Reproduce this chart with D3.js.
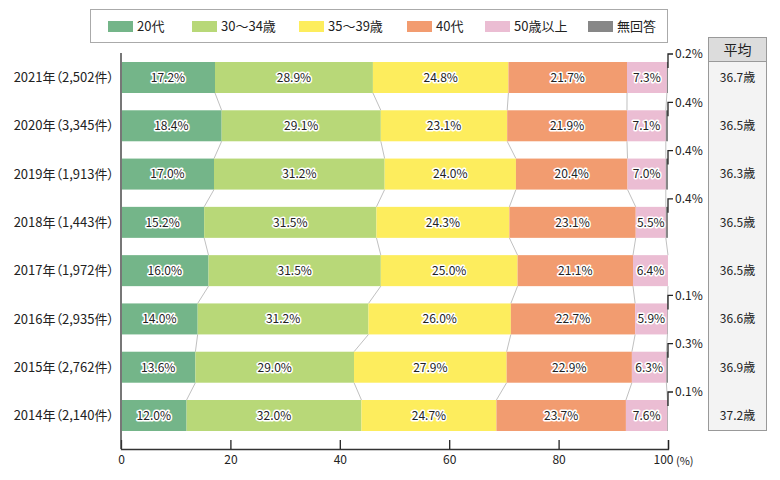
<!DOCTYPE html>
<meta charset="utf-8">
<style>
body { margin: 0; background: #fff; }
svg { font-family: "Noto Sans CJK JP", "Noto Sans", sans-serif; }
.seg-label {
  font-size: 12px;
  fill: #222;
  stroke: #fff;
  stroke-width: 3px;
  stroke-linejoin: round;
  paint-order: stroke;
}
.cat-label { font-feature-settings: "palt"; }
</style>
<svg width="780" height="480"></svg>
<script src="https://d3js.org/d3.v7.min.js"></script>
<script>
var years = ["2021年（2,502件）", "2020年（3,345件）", "2019年（1,913件）", "2018年（1,443件）",
             "2017年（1,972件）", "2016年（2,935件）", "2015年（2,762件）", "2014年（2,140件）"]
var groups = ["20代", "30～34歳", "35～39歳", "40代", "50歳以上", "無回答"]
var colors = ["#74b589", "#b8d878", "#fded5d", "#f29c70", "#ebbdd3", "#878787"]
var age20 = [17.2, 18.4, 17.0, 15.2, 16.0, 14.0, 13.6, 12.0]
var age30 = [28.9, 29.1, 31.2, 31.5, 31.5, 31.2, 29.0, 32.0]
var age35 = [24.8, 23.1, 24.0, 24.3, 25.0, 26.0, 27.9, 24.7]
var age40 = [21.7, 21.9, 20.4, 23.1, 21.1, 22.7, 22.9, 23.7]
var age50 = [7.3, 7.1, 7.0, 5.5, 6.4, 5.9, 6.3, 7.6]
var noAnswer = [0.2, 0.4, 0.4, 0.4, 0, 0.1, 0.3, 0.1]
var averages = ["36.7歳", "36.5歳", "36.3歳", "36.5歳", "36.5歳", "36.6歳", "36.9歳", "37.2歳"]
var xTicks = [0, 20, 40, 60, 80, 100]

var series = [age20, age30, age35, age40, age50, noAnswer]

var svg = d3.select("svg")

var x = d3.scaleLinear().domain([0, 100]).range([121, 668])
var y = d3.scaleBand().domain(years).range([62, 431]).paddingInner(0.358).paddingOuter(0)
var bh = y.bandwidth()

// build stacked rows (normalised so every row fills to 100)
var rows = years.map(function(yr, i) {
  var vals = series.map(function(s) { return s[i] })
  var total = d3.sum(vals)
  var cum = 0
  var segs = vals.map(function(v, k) {
    var s = {row: i, k: k, v: v, x0: cum / total * 100}
    cum += v
    s.x1 = cum / total * 100
    return s
  })
  return {year: yr, segs: segs}
})

// connector lines between bars
var conn = svg.append("g").attr("stroke", "#c0c0c0").attr("stroke-width", 1)
for (var i = 0; i < rows.length - 1; i++) {
  for (var k = 0; k < 5; k++) {
    conn.append("line")
      .attr("x1", x(rows[i].segs[k].x1)).attr("y1", y(years[i]) + bh)
      .attr("x2", x(rows[i + 1].segs[k].x1)).attr("y2", y(years[i + 1]))
  }
}

// bars
var rowG = svg.selectAll("g.row").data(rows).enter().append("g").attr("class", "row")
  .attr("transform", function(d) { return "translate(0," + y(d.year) + ")" })
rowG.selectAll("rect").data(function(d) { return d.segs }).enter().append("rect")
  .attr("x", function(d) { return x(d.x0) })
  .attr("width", function(d) { return x(d.x1) - x(d.x0) })
  .attr("height", bh)
  .attr("fill", function(d) { return colors[d.k] })
rowG.selectAll("text").data(function(d) { return d.segs.filter(function(s) { return s.k < 5 }) })
  .enter().append("text")
  .attr("class", "seg-label")
  .attr("x", function(d) { return (x(d.x0) + x(d.x1)) / 2 })
  .attr("y", bh / 2)
  .attr("dy", "0.36em")
  .attr("text-anchor", "middle")
  .text(function(d) { return d.v.toFixed(1) + "%" })

// 無回答 leader labels
rows.forEach(function(r, i) {
  var v = noAnswer[i]
  if (!v) return
  var top = y(r.year)
  var xr = x(100)
  svg.append("path")
    .attr("d", "M" + (xr + 5) + "," + (top - 8) + "H" + xr + "V" + (top + 6))
    .attr("fill", "none").attr("stroke", "#222").attr("stroke-width", 1.3)
  svg.append("text")
    .attr("x", xr + 7).attr("y", top - 8).attr("dy", "0.36em")
    .attr("font-size", 12).attr("fill", "#222")
    .text(v.toFixed(1) + "%")
})

// category labels
svg.append("g").selectAll("text").data(years).enter().append("text")
  .attr("class", "cat-label")
  .attr("x", 114)
  .attr("y", function(d) { return y(d) + bh / 2 })
  .attr("dy", "0.36em")
  .attr("text-anchor", "end")
  .attr("font-size", 13).attr("fill", "#222")
  .text(function(d) { return d })

// axes
svg.append("line").attr("x1", 121).attr("x2", 121).attr("y1", 53).attr("y2", 449)
  .attr("stroke", "#777").attr("stroke-width", 2)
var xAxis = svg.append("g").attr("transform", "translate(0,449)")
  .call(d3.axisBottom(x).tickValues(xTicks).tickSize(-9).tickPadding(6).tickFormat(d3.format("d")))
xAxis.select(".domain").attr("stroke", "#333").attr("stroke-width", 1.3)
xAxis.selectAll(".tick line").attr("stroke", "#222").attr("stroke-width", 1.3)
  .filter(function(d) { return d === 0 }).remove()
xAxis.selectAll(".tick text").attr("font-size", 12).attr("fill", "#222")
  .attr("font-family", "Noto Sans CJK JP, Noto Sans, sans-serif")
  .filter(function(d) { return d === 100 }).attr("x", -5)
svg.append("text").attr("x", x(100) + 8).attr("y", 461).attr("dy", "0.36em")
  .attr("font-size", 11).attr("fill", "#222").text("(%)")

// legend
var lg = svg.append("g")
lg.append("rect").attr("x", 90.5).attr("y", 9.5).attr("width", 577).attr("height", 33)
  .attr("fill", "#fff").attr("stroke", "#aaa")
var legX = [108, 192, 299, 407, 485, 588]
groups.forEach(function(g, k) {
  lg.append("rect").attr("x", legX[k]).attr("y", 21).attr("width", 25).attr("height", 11)
    .attr("fill", colors[k])
  lg.append("text").attr("x", legX[k] + 29).attr("y", 26.5).attr("dy", "0.36em")
    .attr("font-size", 13).attr("fill", "#222").text(g)
})

// average table
var tb = svg.append("g")
tb.append("rect").attr("x", 708.5).attr("y", 37.5).attr("width", 58).attr("height", 393)
  .attr("fill", "#f3f3f3").attr("stroke", "#999")
tb.append("rect").attr("x", 708.5).attr("y", 37.5).attr("width", 58).attr("height", 24)
  .attr("fill", "#dcdcdc").attr("stroke", "#999")
tb.append("text").attr("x", 737.5).attr("y", 50).attr("dy", "0.36em")
  .attr("text-anchor", "middle").attr("font-size", 14).attr("fill", "#222").text("平均")
tb.selectAll("text.avg").data(averages).enter().append("text").attr("class", "avg")
  .attr("x", 737.5)
  .attr("y", function(d, i) { return y(years[i]) + bh / 2 })
  .attr("dy", "0.36em")
  .attr("text-anchor", "middle").attr("font-size", 12).attr("fill", "#222")
  .text(function(d) { return d })
</script>
